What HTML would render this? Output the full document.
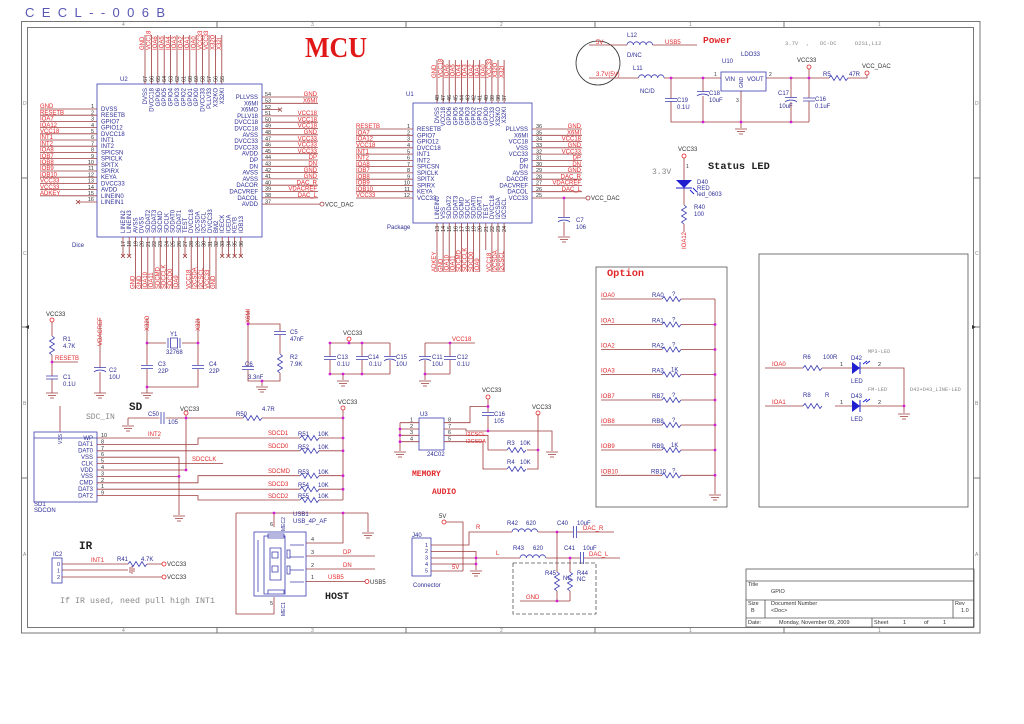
<!DOCTYPE html>
<html><head><meta charset="utf-8"><style>
html,body{margin:0;padding:0;background:#fff}
svg{display:block}
.w{stroke:#9e3b3b;stroke-width:.8;fill:none}
.b{stroke:#3c3cb0;stroke-width:.8;fill:none}
.r{fill:#e0282b}
.n{fill:#2e2e96}
.k{fill:#333}
.g{fill:#888}
.d{fill:#d020d0}
.m{font-family:"Liberation Mono",monospace}
.e{text-anchor:end}
</style></head><body>
<svg width="1024" height="724" viewBox="0 0 1024 724" xmlns="http://www.w3.org/2000/svg" font-family="Liberation Sans, sans-serif" font-size="6">
<defs>
<path id="rh" d="M0 0l2-2.5l3 5l3-5l3 5l3-5l3 5l2-2.5" fill="none"/>
<path id="rv" d="M0 0l2.5 2l-5 3l5 3l-5 3l5 3l-5 3l2.5 2" fill="none"/>
<path id="ind" d="M0 0a3.2 3.2 0 0 1 6.4 0a3.2 3.2 0 0 1 6.4 0a3.2 3.2 0 0 1 6.4 0a3.2 3.2 0 0 1 6.4 0" fill="none"/>
<path id="gnd" d="M-6 0h12M-4 2.5h8M-2 5h4" fill="none"/>
<path id="cap" d="M-6 -1.5h12M-6 1.5h12" fill="none"/>
<path id="capc" d="M-6 -1.5h12M-6 3a7 4 0 0 1 12 0" fill="none"/>
<path id="capx" d="M-1.5 -6v12M1.5 -6v12" fill="none"/>
<path id="xm" d="M-2 -2l4 4M-2 2l4-4" fill="none"/>
</defs>

<!-- frame -->
<g fill="none" stroke="#777" stroke-width="1">
<rect x="21.5" y="21.5" width="958.5" height="611.5"/>
<rect x="27.5" y="27.5" width="946" height="600"/>
<path d="M217 21.5v6M406 21.5v6M595 21.5v6M784 21.5v6M217 627.5v6M406 627.5v6M595 627.5v6M784 627.5v6M21.5 178h6M21.5 327h6M21.5 478h6M973.5 178h6M973.5 327h6M973.5 478h6"/>
</g>
<g class="g" font-size="5">
<text x="122" y="26">4</text><text x="311" y="26">3</text><text x="500" y="26">2</text><text x="689" y="26">1</text><text x="878" y="26">1</text>
<text x="122" y="632">4</text><text x="311" y="632">3</text><text x="500" y="632">2</text><text x="689" y="632">1</text><text x="878" y="632">1</text>
<text x="23" y="105">D</text><text x="23" y="255">C</text><text x="23" y="405">B</text><text x="23" y="556">A</text>
<text x="975" y="105">D</text><text x="975" y="255">C</text><text x="975" y="405">B</text><text x="975" y="556">A</text>
</g>

<text x="25" y="17" font-size="13" fill="#5858b4" textLength="140" lengthAdjust="spacing">CECL--006B</text>
<text x="305" y="57" font-size="28" font-weight="bold" font-family="Liberation Serif, serif" fill="#e01818" textLength="62" lengthAdjust="spacingAndGlyphs">MCU</text>

<!-- ================= U2 ================= -->
<rect x="97" y="84" width="165" height="153" class="b"/>
<text x="120" y="81" class="n">U2</text>
<text x="72" y="247" class="n">Dice</text>
<path class="w" d="M40 109H97M40 115.2H97M40 121.4H97M40 127.6H97M40 133.8H97M40 140H97M40 146.2H97M40 152.4H97M40 158.6H97M40 164.8H97M40 171H97M40 177.2H97M40 183.4H97M40 189.6H97M40 195.8H97M78 202H97
M262 97H318M262 103.3H318M262 109.6H280M262 115.9H318M262 122.2H318M262 128.5H318M262 134.8H318M262 141.1H318M262 147.4H318M262 153.7H318M262 160H318M262 166.3H318M262 172.6H318M262 178.9H318M262 185.2H318M262 191.5H318M262 197.8H318M262 204.1H320
M145 35V84M151.4 35V84M157.8 35V84M164.2 35V84M170.6 35V84M177 35V84M183.4 35V84M189.8 35V84M196.2 35V84M202.6 35V84M209 35V84M215.4 35V84M221.8 35V84
M123 237V256M129.2 237V256M135.4 237V289M141.6 237V289M147.8 237V289M154 237V289M160.2 237V289M166.4 237V289M172.6 237V289M178.8 237V289M185 237V256M191.2 237V289M197.4 237V289M203.6 237V289M209.8 237V289M216 237V289M222.2 237V256M228.4 237V256M234.6 237V256M240.8 237V256"/>
<g class="w"><use href="#xm" x="78" y="202"/><use href="#xm" x="280" y="109.6"/><use href="#xm" x="123" y="256"/><use href="#xm" x="129.2" y="256"/><use href="#xm" x="185" y="256"/><use href="#xm" x="222.2" y="256"/><use href="#xm" x="228.4" y="256"/><use href="#xm" x="234.6" y="256"/><use href="#xm" x="240.8" y="256"/></g>
<circle cx="322" cy="204.1" r="2" fill="none" stroke="#9e3b3b" stroke-width=".8"/>
<text x="325" y="206.5" class="k">VCC_DAC</text>
<g class="r">
<text x="40" y="108.2">GND</text><text x="40" y="114.4">RESETB</text><text x="40" y="120.6">IOA7</text><text x="40" y="126.8">IOA12</text><text x="40" y="133">VCC18</text><text x="40" y="139.2">INT1</text><text x="40" y="145.4">INT2</text><text x="40" y="151.6">IOA8</text><text x="40" y="157.8">IOB7</text><text x="40" y="164">IOB8</text><text x="40" y="170.2">IOB9</text><text x="40" y="176.4">IOB10</text><text x="40" y="182.6">VCC33</text><text x="40" y="188.8">VCC33</text><text x="40" y="195">ADKEY</text>
</g>
<g class="r e">
<text x="317" y="96.2">GND</text><text x="317" y="102.5">X6MI</text><text x="317" y="115.1">VCC18</text><text x="317" y="121.4">VCC18</text><text x="317" y="127.7">VCC18</text><text x="317" y="134">GND</text><text x="317" y="140.3">VCC33</text><text x="317" y="146.6">VCC33</text><text x="317" y="152.9">VCC33</text><text x="317" y="159.2">DP</text><text x="317" y="165.5">DN</text><text x="317" y="171.8">GND</text><text x="317" y="178.1">GND</text><text x="317" y="184.4">DAC_R</text><text x="317" y="190.7">VDACREF</text><text x="317" y="197">DAC_L</text>
</g>
<g class="n">
<text x="101" y="111">DVSS</text><text x="101" y="117.2">RESETB</text><text x="101" y="123.4">GPIO7</text><text x="101" y="129.6">GPIO12</text><text x="101" y="135.8">DVCC18</text><text x="101" y="142">INT1</text><text x="101" y="148.2">INT2</text><text x="101" y="154.4">SPICSN</text><text x="101" y="160.6">SPICLK</text><text x="101" y="166.8">SPITX</text><text x="101" y="173">SPIRX</text><text x="101" y="179.2">KEYA</text><text x="101" y="185.4">DVCC33</text><text x="101" y="191.6">AVDD</text><text x="101" y="197.8">LINEIN0</text><text x="101" y="204">LINEIN1</text>
</g>
<g class="n e">
<text x="258" y="99">PLLVSS</text><text x="258" y="105.3">X6MI</text><text x="258" y="111.6">X6MO</text><text x="258" y="117.9">PLLV18</text><text x="258" y="124.2">DVCC18</text><text x="258" y="130.5">DVCC18</text><text x="258" y="136.8">AVSS</text><text x="258" y="143.1">DVCC33</text><text x="258" y="149.4">DVCC33</text><text x="258" y="155.7">AVDD</text><text x="258" y="162">DP</text><text x="258" y="168.3">DN</text><text x="258" y="174.6">AVSS</text><text x="258" y="180.9">AVSS</text><text x="258" y="187.2">DACOR</text><text x="258" y="193.5">DACVREF</text><text x="258" y="199.8">DACOL</text><text x="258" y="206.1">AVDD</text>
</g>
<g class="k e" font-size="5.5">
<text x="94" y="108.2">1</text><text x="94" y="114.4">2</text><text x="94" y="120.6">3</text><text x="94" y="126.8">4</text><text x="94" y="133">5</text><text x="94" y="139.2">6</text><text x="94" y="145.4">7</text><text x="94" y="151.6">8</text><text x="94" y="157.8">9</text><text x="94" y="164">10</text><text x="94" y="170.2">11</text><text x="94" y="176.4">12</text><text x="94" y="182.6">13</text><text x="94" y="188.8">14</text><text x="94" y="195">15</text><text x="94" y="201.2">16</text>
</g>
<g class="k" font-size="5.5">
<text x="265" y="96.2">54</text><text x="265" y="102.5">53</text><text x="265" y="108.8">52</text><text x="265" y="115.1">51</text><text x="265" y="121.4">50</text><text x="265" y="127.7">49</text><text x="265" y="134">48</text><text x="265" y="140.3">47</text><text x="265" y="146.6">46</text><text x="265" y="152.9">45</text><text x="265" y="159.2">44</text><text x="265" y="165.5">43</text><text x="265" y="171.8">42</text><text x="265" y="178.1">41</text><text x="265" y="184.4">40</text><text x="265" y="190.7">39</text><text x="265" y="197">38</text><text x="265" y="203.3">37</text>
</g>
<g transform="rotate(-90)">
<g class="r">
<text x="-50" y="144.2">GND</text><text x="-50" y="150.6">VCC18</text><text x="-50" y="157">IOA6</text><text x="-50" y="163.4">IOA5</text><text x="-50" y="169.8">IOA4</text><text x="-50" y="176.2">IOA3</text><text x="-50" y="182.6">IOA2</text><text x="-50" y="189">IOA1</text><text x="-50" y="195.4">IOA0</text><text x="-50" y="201.8">VCC33</text><text x="-50" y="208.2">VCC33</text><text x="-50" y="214.6">X32O</text><text x="-50" y="221">X32I</text>
<text x="-289" y="134.6">GND</text><text x="-289" y="140.8">GND</text><text x="-289" y="147">IOA10</text><text x="-289" y="153.2">IOA11</text><text x="-289" y="159.4">SDCMD</text><text x="-289" y="165.6">SDCCLK</text><text x="-289" y="171.8">SDCD0</text><text x="-289" y="178">IOA9</text><text x="-289" y="190.4">VCC18</text><text x="-289" y="196.6">I2CSDA</text><text x="-289" y="202.8">I2CSCL</text><text x="-289" y="209">VCC33</text><text x="-289" y="215.2">GND</text>
</g>
<g class="n e">
<text x="-88" y="147">DVSS</text><text x="-88" y="153.4">DVCC18</text><text x="-88" y="159.8">GPIO6</text><text x="-88" y="166.2">GPIO5</text><text x="-88" y="172.6">GPIO4</text><text x="-88" y="179">GPIO3</text><text x="-88" y="185.4">GPIO2</text><text x="-88" y="191.8">GPIO1</text><text x="-88" y="198.2">GPIO0</text><text x="-88" y="204.6">DVCC33</text><text x="-88" y="211">PLLV33</text><text x="-88" y="217.4">X32KO</text><text x="-88" y="223.8">X32KI</text>
</g>
<g class="n">
<text x="-233" y="125">LINEIN2</text><text x="-233" y="131.2">LINEIN3</text><text x="-233" y="137.4">AVSS</text><text x="-233" y="143.6">DVSS</text><text x="-233" y="149.8">SDDAT2</text><text x="-233" y="156">SDDAT3</text><text x="-233" y="162.2">SDCMD</text><text x="-233" y="168.4">SDCLK</text><text x="-233" y="174.6">SDDAT0</text><text x="-233" y="180.8">SDDAT1</text><text x="-233" y="187">TEST</text><text x="-233" y="193.2">DVCC18</text><text x="-233" y="199.4">I2CSDA</text><text x="-233" y="205.6">I2CSCL</text><text x="-233" y="211.8">DVCC33</text><text x="-233" y="218">BM2</text><text x="-233" y="224.2">ICECK</text><text x="-233" y="230.4">ICEDA</text><text x="-233" y="236.6">KEYB</text><text x="-233" y="242.8">IOB13</text>
</g>
<g class="k" font-size="5.5">
<text x="-82" y="147">67</text><text x="-82" y="153.4">66</text><text x="-82" y="159.8">65</text><text x="-82" y="166.2">64</text><text x="-82" y="172.6">63</text><text x="-82" y="179">62</text><text x="-82" y="185.4">61</text><text x="-82" y="191.8">60</text><text x="-82" y="198.2">59</text><text x="-82" y="204.6">58</text><text x="-82" y="211">57</text><text x="-82" y="217.4">56</text><text x="-82" y="223.8">55</text>
<text x="-247" y="125">17</text><text x="-247" y="131.2">18</text><text x="-247" y="137.4">19</text><text x="-247" y="143.6">20</text><text x="-247" y="149.8">21</text><text x="-247" y="156">22</text><text x="-247" y="162.2">23</text><text x="-247" y="168.4">24</text><text x="-247" y="174.6">25</text><text x="-247" y="180.8">26</text><text x="-247" y="187">27</text><text x="-247" y="193.2">28</text><text x="-247" y="199.4">29</text><text x="-247" y="205.6">30</text><text x="-247" y="211.8">31</text><text x="-247" y="218">32</text><text x="-247" y="224.2">33</text><text x="-247" y="230.4">34</text><text x="-247" y="236.6">35</text><text x="-247" y="242.8">36</text>
</g>
</g>

<!-- ================= U1 ================= -->
<rect x="413" y="103" width="119" height="120" class="b"/>
<text x="406" y="96" class="n">U1</text>
<text x="387" y="229" class="n">Package</text>
<path class="w" d="M356 129H413M356 135.3H413M356 141.5H413M356 147.8H413M356 154.1H413M356 160.4H413M356 166.6H413M356 172.9H413M356 179.2H413M356 185.5H413M356 191.7H413M356 198H413
M532 129H582M532 135.3H582M532 141.5H582M532 147.8H582M532 154.1H582M532 160.4H582M532 166.6H582M532 172.9H582M532 179.2H582M532 185.5H582M532 191.7H582M532 198H586
M437 60V103M443.1 60V103M449.2 60V103M455.3 60V103M461.4 60V103M467.5 60V103M473.6 60V103M479.7 60V103M485.8 60V103M491.9 60V103M498 60V103M504.1 60V103
M437 223V272M443.1 223V272M449.2 223V272M455.3 223V272M461.4 223V272M467.5 223V272M473.6 223V272M479.7 223V272M485.8 223V250M491.9 223V272M498 223V272M504.1 223V272
M564 198V217M564 222V236"/>
<use href="#capc" x="564" y="219" class="b"/>
<use href="#gnd" x="564" y="237" class="w"/>
<circle cx="564" cy="198" r="1.4" class="d"/>
<circle cx="588" cy="198" r="2" fill="none" stroke="#9e3b3b" stroke-width=".8"/>
<text x="591" y="200" class="k">VCC_DAC</text>
<text x="576" y="222" class="n">C7</text><text x="576" y="229" class="n">106</text>
<g class="r">
<text x="356" y="128.2">RESETB</text><text x="356" y="134.5">IOA7</text><text x="356" y="140.7">IOA12</text><text x="356" y="147">VCC18</text><text x="356" y="153.3">INT1</text><text x="356" y="159.6">INT2</text><text x="356" y="165.8">IOA8</text><text x="356" y="172.1">IOB7</text><text x="356" y="178.4">IOB8</text><text x="356" y="184.7">IOB9</text><text x="356" y="190.9">IOB10</text><text x="356" y="197.2">VCC33</text>
</g>
<g class="r e">
<text x="581" y="128.2">GND</text><text x="581" y="134.5">X6MI</text><text x="581" y="140.7">VCC18</text><text x="581" y="147">GND</text><text x="581" y="153.3">VCC33</text><text x="581" y="159.6">DP</text><text x="581" y="165.8">DN</text><text x="581" y="172.1">GND</text><text x="581" y="178.4">DAC_R</text><text x="581" y="184.7">VDACREF</text><text x="581" y="190.9">DAC_L</text>
</g>
<g class="n">
<text x="417" y="131">RESETB</text><text x="417" y="137.3">GPIO7</text><text x="417" y="143.5">GPIO12</text><text x="417" y="149.8">DVCC18</text><text x="417" y="156.1">INT1</text><text x="417" y="162.4">INT2</text><text x="417" y="168.6">SPICSN</text><text x="417" y="174.9">SPICLK</text><text x="417" y="181.2">SPITX</text><text x="417" y="187.5">SPIRX</text><text x="417" y="193.7">KEYA</text><text x="417" y="200">VCC33</text>
</g>
<g class="n e">
<text x="528" y="131">PLLVSS</text><text x="528" y="137.3">X6MI</text><text x="528" y="143.5">VCC18</text><text x="528" y="149.8">VSS</text><text x="528" y="156.1">VCC33</text><text x="528" y="162.4">DP</text><text x="528" y="168.6">DN</text><text x="528" y="174.9">AVSS</text><text x="528" y="181.2">DACOR</text><text x="528" y="187.5">DACVREF</text><text x="528" y="193.7">DACOL</text><text x="528" y="200">VCC33</text>
</g>
<g class="k e" font-size="5.5">
<text x="410" y="128.2">1</text><text x="410" y="134.5">2</text><text x="410" y="140.7">3</text><text x="410" y="147">4</text><text x="410" y="153.3">5</text><text x="410" y="159.6">6</text><text x="410" y="165.8">7</text><text x="410" y="172.1">8</text><text x="410" y="178.4">9</text><text x="410" y="184.7">10</text><text x="410" y="190.9">11</text><text x="410" y="197.2">12</text>
</g>
<g class="k" font-size="5.5">
<text x="536" y="128.2">36</text><text x="536" y="134.5">35</text><text x="536" y="140.7">34</text><text x="536" y="147">33</text><text x="536" y="153.3">32</text><text x="536" y="159.6">31</text><text x="536" y="165.8">30</text><text x="536" y="172.1">29</text><text x="536" y="178.4">28</text><text x="536" y="184.7">27</text><text x="536" y="190.9">26</text><text x="536" y="197.2">25</text>
</g>
<g transform="rotate(-90)">
<g class="r">
<text x="-78" y="436.2">GND</text><text x="-78" y="442.3">VCC18</text><text x="-78" y="448.4">IOA6</text><text x="-78" y="454.5">IOA5</text><text x="-78" y="460.6">IOA4</text><text x="-78" y="466.7">IOA3</text><text x="-78" y="472.8">IOA2</text><text x="-78" y="478.9">IOA1</text><text x="-78" y="485">IOA0</text><text x="-78" y="491.1">VCC33</text><text x="-78" y="497.2">X32O</text><text x="-78" y="503.3">X32I</text>
<text x="-272" y="436.2">ADKEY</text><text x="-272" y="442.3">GND</text><text x="-272" y="448.4">IOA10</text><text x="-272" y="454.5">IOA11</text><text x="-272" y="460.6">SDCMD</text><text x="-272" y="466.7">SDCCLK</text><text x="-272" y="472.8">SDCD0</text><text x="-272" y="478.9">IOA9</text><text x="-272" y="491.1">VCC18</text><text x="-272" y="497.2">I2CSDA</text><text x="-272" y="503.3">I2CSCL</text>
</g>
<g class="n e">
<text x="-107" y="439">DVSS</text><text x="-107" y="445.1">VCC18</text><text x="-107" y="451.2">GPIO6</text><text x="-107" y="457.3">GPIO5</text><text x="-107" y="463.4">GPIO4</text><text x="-107" y="469.5">GPIO3</text><text x="-107" y="475.6">GPIO2</text><text x="-107" y="481.7">GPIO1</text><text x="-107" y="487.8">GPIO0</text><text x="-107" y="493.9">VCC33</text><text x="-107" y="500">X32KO</text><text x="-107" y="506.1">X32KI</text>
</g>
<g class="n">
<text x="-219" y="439">LINEIN0</text><text x="-219" y="445.1">VSS</text><text x="-219" y="451.2">SDDAT2</text><text x="-219" y="457.3">SDDAT3</text><text x="-219" y="463.4">SDCMD</text><text x="-219" y="469.5">SDCLK</text><text x="-219" y="475.6">SDDAT0</text><text x="-219" y="481.7">SDDAT1</text><text x="-219" y="487.8">TEST</text><text x="-219" y="493.9">DVCC18</text><text x="-219" y="500">I2CSDA</text><text x="-219" y="506.1">I2CSCL</text>
</g>
<g class="k" font-size="5.5">
<text x="-101" y="439">48</text><text x="-101" y="445.1">47</text><text x="-101" y="451.2">46</text><text x="-101" y="457.3">45</text><text x="-101" y="463.4">44</text><text x="-101" y="469.5">43</text><text x="-101" y="475.6">42</text><text x="-101" y="481.7">41</text><text x="-101" y="487.8">40</text><text x="-101" y="493.9">39</text><text x="-101" y="500">38</text><text x="-101" y="506.1">37</text>
<text x="-232" y="439">13</text><text x="-232" y="445.1">14</text><text x="-232" y="451.2">15</text><text x="-232" y="457.3">16</text><text x="-232" y="463.4">17</text><text x="-232" y="469.5">18</text><text x="-232" y="475.6">19</text><text x="-232" y="481.7">20</text><text x="-232" y="487.8">21</text><text x="-232" y="493.9">22</text><text x="-232" y="500">23</text><text x="-232" y="506.1">24</text>
</g>
</g>

<!-- ================= POWER ================= -->
<circle cx="598" cy="63" r="22" fill="none" stroke="#333" stroke-width=".8"/>
<path class="w" d="M589 45H627M652.6 45H697M589 78H638.5M664 78H721M766 78H829M848 78H867V75M671 78V98.5M671 101.5V122H809M703 78V91.5M703 96V122M741 91V128M791 78V97.5M791 102V122M809 78V97.5M809 101.5V122M809 78V69"/>
<use href="#ind" x="627" y="45" class="b"/>
<use href="#ind" x="638.5" y="78" class="b"/>
<use href="#cap" x="671" y="100" class="b"/>
<use href="#capc" x="703" y="93" class="b"/>
<use href="#capc" x="791" y="99" class="b"/>
<use href="#cap" x="809" y="99.5" class="b"/>
<use href="#rh" x="829" y="78" class="b"/>
<use href="#gnd" x="741" y="129" class="w"/>
<rect x="721" y="72" width="45" height="19" class="b"/>
<g class="d"><circle cx="671" cy="78" r="1.4"/><circle cx="703" cy="78" r="1.4"/><circle cx="791" cy="78" r="1.4"/><circle cx="809" cy="78" r="1.4"/><circle cx="703" cy="122" r="1.4"/><circle cx="741" cy="122" r="1.4"/><circle cx="791" cy="122" r="1.4"/></g>
<circle cx="809" cy="67" r="2" fill="none" stroke="#e0282b" stroke-width=".8"/>
<circle cx="867" cy="73" r="2" fill="none" stroke="#e0282b" stroke-width=".8"/>
<text x="596" y="44" class="r">5V</text>
<text x="596" y="76" class="r">3.7V(5V)</text>
<text x="665" y="44" class="r">USB5</text>
<text x="703" y="43" class="r m" font-size="9.5" font-weight="bold">Power</text>
<g class="g m" font-size="5.5"><text x="785" y="45">3.7V</text><text x="806" y="45">,</text><text x="820" y="45">DC-DC</text><text x="855" y="45">D2S1,L12</text></g>
<g class="n">
<text x="627" y="37">L12</text><text x="627" y="57">D/NC</text><text x="633" y="70">L11</text><text x="640" y="93">NC/D</text>
<text x="677" y="102">C19</text><text x="677" y="109">0.1U</text><text x="709" y="95">C18</text><text x="709" y="102">10uF</text>
<text x="722" y="63">U10</text><text x="741" y="56">LDO33</text><text x="725" y="81">VIN</text><text x="747" y="81">VOUT</text>
<text x="778" y="95">C17</text><text x="779" y="108">10uF</text><text x="815" y="101">C16</text><text x="815" y="108">0.1uF</text>
<text x="823" y="76">R5</text><text x="849" y="76">47R</text>
</g>
<text transform="translate(743,88) rotate(-90)" class="n" font-size="5">GND</text>
<g class="k" font-size="5"><text x="714" y="76">1</text><text x="769" y="76">2</text><text x="736" y="102">3</text></g>
<text x="797" y="62" class="k">VCC33</text>
<text x="862" y="68" class="k">VCC_DAC</text>

<!-- Status LED -->
<text x="678" y="151" class="k">VCC33</text>
<circle cx="684" cy="156" r="2" fill="none" stroke="#e0282b" stroke-width=".8"/>
<path class="w" d="M684 158V180M684 188V205M684 224V232"/>
<path d="M676 180h16l-8 8z" fill="#1f1fd0"/>
<path d="M676 188h16M690 190l4 4M693 188l4 4" stroke="#1f1fd0" stroke-width="1" fill="none"/>
<use href="#rv" x="684" y="205" class="b"/>
<text x="686" y="168" class="k" font-size="5">1</text>
<text x="652" y="174" class="g m" font-size="8">3.3V</text>
<text x="708" y="169" class="m" font-size="10.3" font-weight="bold" fill="#222">Status LED</text>
<g class="n"><text x="697" y="184">D40</text><text x="697" y="190">RED</text><text x="697" y="196">led_0603</text><text x="694" y="209">R40</text><text x="694" y="216">100</text></g>
<text transform="translate(686,249) rotate(-90)" class="r">IOA12</text>

<!-- ================= small components row ================= -->
<text x="46" y="316" class="k">VCC33</text>
<circle cx="52" cy="320" r="2" fill="none" stroke="#e0282b" stroke-width=".8"/>
<path class="w" d="M52 322V336M52 355V376M52 379V393M52 362H78"/>
<use href="#rv" x="52" y="336" class="b"/>
<use href="#cap" x="52" y="377.5" class="b"/>
<use href="#gnd" x="52" y="393" class="w"/>
<circle cx="52" cy="362" r="1.4" class="d"/>
<text x="55" y="360" class="r">RESETB</text>
<g class="n"><text x="63" y="341">R1</text><text x="63" y="348">4.7K</text><text x="63" y="379">C1</text><text x="63" y="386">0.1U</text></g>

<text transform="translate(102,346) rotate(-90)" class="r">VDACREF</text>
<path class="w" d="M100 318V368M100 372V393"/>
<use href="#capc" x="100" y="369" class="b"/>
<use href="#gnd" x="100" y="393" class="w"/>
<g class="n"><text x="109" y="372">C2</text><text x="109" y="379">10U</text></g>

<text transform="translate(149,331) rotate(-90)" class="r">X32O</text>
<text transform="translate(200,331) rotate(-90)" class="r">X32I</text>
<path class="w" d="M147 318V365M147 369V393M198 318V365M198 369V387H147M147 343H166M182 343H198"/>
<path class="b" d="M168 338v10M180 338v10M170.5 338h7v10h-7z"/>
<use href="#cap" x="147" y="367" class="b"/>
<use href="#cap" x="198" y="367" class="b"/>
<use href="#gnd" x="147" y="393" class="w"/>
<g class="d"><circle cx="147" cy="343" r="1.4"/><circle cx="198" cy="343" r="1.4"/><circle cx="147" cy="387" r="1.4"/></g>
<g class="n"><text x="170" y="336">Y1</text><text x="166" y="354">32768</text><text x="158" y="366">C3</text><text x="158" y="373">22P</text><text x="209" y="366">C4</text><text x="209" y="373">22P</text></g>

<text transform="translate(250,323) rotate(-90)" class="r">X6MI</text>
<path class="w" d="M248 310V366M248 370V381H280V373M248 324H280V331M280 335V354M262 381V386"/>
<use href="#cap" x="280" y="333" class="b"/>
<use href="#cap" x="248" y="368" class="b"/>
<use href="#rv" x="280" y="354" class="b"/>
<use href="#gnd" x="262" y="387" class="w"/>
<g class="d"><circle cx="248" cy="324" r="1.4"/><circle cx="262" cy="381" r="1.4"/></g>
<g class="n"><text x="290" y="334">C5</text><text x="290" y="341">47nF</text><text x="290" y="359">R2</text><text x="290" y="366">7.9K</text><text x="245" y="366">C6</text><text x="248" y="379">3.3nF</text></g>

<text x="343" y="335" class="k">VCC33</text>
<circle cx="349" cy="339" r="2" fill="none" stroke="#e0282b" stroke-width=".8"/>
<path class="w" d="M330 343H390M330 374H390M330 343V356.5M330 360V374M362 343V356.5M362 360V374M390 343V356.5M390 360V374M343 374V380M349 341V343"/>
<use href="#cap" x="330" y="358" class="b"/>
<use href="#cap" x="362" y="358" class="b"/>
<use href="#capc" x="390" y="358" class="b"/>
<use href="#gnd" x="343" y="381" class="w"/>
<g class="d"><circle cx="349" cy="343" r="1.4"/><circle cx="362" cy="343" r="1.4"/><circle cx="343" cy="374" r="1.4"/><circle cx="362" cy="374" r="1.4"/><circle cx="330" cy="343" r="1.4"/><circle cx="330" cy="374" r="1.4"/></g>
<g class="n"><text x="337" y="359">C13</text><text x="337" y="366">0.1U</text><text x="368" y="359">C14</text><text x="369" y="366">0.1U</text><text x="396" y="359">C15</text><text x="396" y="366">10U</text></g>

<text x="452" y="341" class="r">VCC18</text>
<path class="w" d="M425 343H475M425 374H450M425 343V356.5M425 360V374M450 343V356.5M450 360V374M425 374V380"/>
<use href="#capc" x="425" y="358" class="b"/>
<use href="#cap" x="450" y="358" class="b"/>
<use href="#gnd" x="425" y="381" class="w"/>
<g class="d"><circle cx="450" cy="343" r="1.4"/><circle cx="425" cy="374" r="1.4"/></g>
<g class="n"><text x="432" y="359">C11</text><text x="432" y="366">10U</text><text x="457" y="359">C12</text><text x="457" y="366">0.1U</text></g>

<!-- ================= SD ================= -->
<text x="129" y="410" class="m" font-size="11" font-weight="bold" fill="#222">SD</text>
<text x="86" y="419" class="g m" font-size="8">SDC_IN</text>
<path class="w" d="M128 418H159.5M165.5 418H243M262 418H343M128 418V425M186 415V469.5M343 410V500M60 406V432"/>
<use href="#capx" x="162.5" y="418" class="b"/>
<use href="#gnd" x="128" y="426" class="w"/>
<use href="#rh" x="243" y="418" class="b"/>
<text x="148" y="416" class="n">C50</text><text x="168" y="424" class="n">105</text>
<text x="180" y="411" class="k">VCC33</text>
<circle cx="186" cy="413" r="2" fill="none" stroke="#e0282b" stroke-width=".8"/>
<text x="236" y="416" class="n">R50</text><text x="262" y="411" class="n">4.7R</text>
<text x="338" y="404" class="k">VCC33</text>
<circle cx="343" cy="408" r="2" fill="none" stroke="#e0282b" stroke-width=".8"/>
<rect x="34" y="432" width="63" height="70" class="b"/>
<path class="b" d="M34 438H97"/>
<text transform="translate(62,444) rotate(-90)" class="n" font-size="5">VSS</text>
<g class="n e">
<text x="93" y="440">WP</text><text x="93" y="446.2">DAT1</text><text x="93" y="452.6">DAT0</text><text x="93" y="459">VSS</text><text x="93" y="465.4">CLK</text><text x="93" y="471.8">VDD</text><text x="93" y="478.2">VSS</text><text x="93" y="484.6">CMD</text><text x="93" y="491">DAT3</text><text x="93" y="497.4">DAT2</text>
</g>
<g class="k" font-size="5.5">
<text x="101" y="437">10</text><text x="101" y="443.4">8</text><text x="101" y="449.8">7</text><text x="101" y="456.2">6</text><text x="101" y="462.6">5</text><text x="101" y="469">4</text><text x="101" y="475.4">3</text><text x="101" y="481.8">2</text><text x="101" y="488.2">1</text><text x="101" y="494.6">9</text>
</g>
<path class="w" d="M97 438H160M97 444.4H198V438H300M319 438H343M97 450.8H300M319 450.8H343M97 457.2H179M97 463.6H223M97 470H186M97 476.4H179M97 482.8H198V475.7H300M319 475.7H343M97 489.2H300M319 489.2H343M97 495.6H198V500H300M319 500H343M179 457.2V515"/>
<g class="b"><use href="#rh" x="300" y="438"/><use href="#rh" x="300" y="450.8"/><use href="#rh" x="300" y="475.7"/><use href="#rh" x="300" y="489.2"/><use href="#rh" x="300" y="500"/></g>
<use href="#gnd" x="179" y="516" class="w"/>
<g class="d"><circle cx="343" cy="418" r="1.4"/><circle cx="343" cy="438" r="1.4"/><circle cx="343" cy="450.8" r="1.4"/><circle cx="343" cy="475.7" r="1.4"/><circle cx="343" cy="489.2" r="1.4"/><circle cx="186" cy="418" r="1.4"/><circle cx="186" cy="470" r="1.4"/><circle cx="179" cy="476.4" r="1.4"/></g>
<g class="r"><text x="148" y="436">INT2</text><text x="268" y="435">SDCD1</text><text x="268" y="448">SDCD0</text><text x="192" y="461">SDCCLK</text><text x="268" y="473">SDCMD</text><text x="268" y="486">SDCD3</text><text x="268" y="498">SDCD2</text></g>
<g class="n"><text x="298" y="436">R51</text><text x="318" y="436">10K</text><text x="298" y="449">R52</text><text x="318" y="449">10K</text><text x="298" y="474">R53</text><text x="318" y="474">10K</text><text x="298" y="487">R54</text><text x="318" y="487">10K</text><text x="298" y="498">R55</text><text x="318" y="498">10K</text><text x="34" y="506">SD1</text><text x="34" y="512">SDCON</text></g>

<!-- ================= USB HOST ================= -->
<path class="w" d="M236 513H368M236 513V614H274V597M274 513V527M343 513V543H306M368 513V532M306 556H375M306 569H375M306 581.5H365"/>
<use href="#gnd" x="368" y="533" class="w"/>
<g class="d"><circle cx="274" cy="513" r="1.4"/><circle cx="343" cy="513" r="1.4"/></g>
<rect x="254" y="532" width="52" height="64" class="b"/>
<path class="b" d="M264 536h21v58h-21zM270 548h11v32h-11zM272 552h6v6h-6zM272 566h6v6h-6zM258 540v52M287 550h3v8h-3zM287 566h3v8h-3zM290 545h14M290 557h14M290 570h14M290 582h14M268 534h16v4h-16zM268 590h16v4h-16z"/>
<g class="k" font-size="5.5"><text x="311" y="541">4</text><text x="311" y="554">3</text><text x="311" y="567">2</text><text x="311" y="579">1</text><text x="270" y="526">6</text><text x="270" y="605">5</text></g>
<g class="r"><text x="343" y="554">DP</text><text x="343" y="567">DN</text><text x="328" y="579">USB5</text></g>
<circle cx="367" cy="581.5" r="2" fill="none" stroke="#e0282b" stroke-width=".8"/>
<text x="370" y="584" class="k">USB5</text>
<text transform="translate(285,531) rotate(-90)" class="n" font-size="5">MEC2</text>
<text transform="translate(285,616) rotate(-90)" class="n" font-size="5">MEC1</text>
<text x="293" y="516" class="n">USB1</text><text x="293" y="523" class="n">USB_4P_AF</text>
<text x="325" y="599" class="m" font-size="10" font-weight="bold" fill="#222">HOST</text>

<!-- ================= IR ================= -->
<text x="79" y="549" class="m" font-size="11" font-weight="bold" fill="#222">IR</text>
<text x="53" y="556" class="n">IC2</text>
<rect x="52" y="558" width="10" height="25" class="b"/>
<g class="n" font-size="5.5"><text x="57" y="566">0</text><text x="57" y="572.5">1</text><text x="57" y="579">2</text></g>
<path class="w" d="M62 564H128M147 564H162M62 570H128M62 577H162M130 567v6M132 566v8M134 568v4"/>
<use href="#rh" x="128" y="564" class="b"/>
<circle cx="164" cy="564" r="2" fill="none" stroke="#e0282b" stroke-width=".8"/>
<circle cx="164" cy="577" r="2" fill="none" stroke="#e0282b" stroke-width=".8"/>
<text x="167" y="566" class="k">VCC33</text><text x="167" y="579" class="k">VCC33</text>
<text x="91" y="562" class="r">INT1</text>
<text x="117" y="561" class="n">R41</text><text x="141" y="561" class="n">4.7K</text>
<text x="60" y="603" class="g m" font-size="8.3" textLength="155" lengthAdjust="spacing">If IR used, need pull high INT1</text>

<!-- ================= MEMORY ================= -->
<rect x="419" y="418" width="25" height="32" class="b"/>
<text x="420" y="416" class="n">U3</text><text x="427" y="456" class="n">24C02</text>
<g class="k" font-size="5.5"><text x="410" y="421.5">1</text><text x="410" y="428">2</text><text x="410" y="434">3</text><text x="410" y="440.5">4</text><text x="448" y="421.5">8</text><text x="448" y="428">7</text><text x="448" y="434">6</text><text x="448" y="440.5">5</text></g>
<path class="w" d="M400 422.7H419M400 429H419M400 435.3H419M400 441.7H419M400 422.7V451M444 422.7H470V406.5H488M444 429H466V431H552V451M444 435.3H488V450H507M527 450H538M444 441.7H483V469H507M527 469H538V414M488 399V412M488 416V431"/>
<use href="#cap" x="488" y="414" class="b"/>
<use href="#rh" x="507" y="450" class="b"/>
<use href="#rh" x="507" y="469" class="b"/>
<use href="#gnd" x="400" y="452" class="w"/>
<use href="#gnd" x="552" y="452" class="w"/>
<g class="d"><circle cx="400" cy="429" r="1.4"/><circle cx="400" cy="435.3" r="1.4"/><circle cx="400" cy="441.7" r="1.4"/><circle cx="488" cy="406.5" r="1.4"/><circle cx="488" cy="431" r="1.4"/><circle cx="538" cy="450" r="1.4"/></g>
<text x="482" y="392" class="k">VCC33</text>
<circle cx="488" cy="397" r="2" fill="none" stroke="#e0282b" stroke-width=".8"/>
<text x="532" y="409" class="k">VCC33</text>
<circle cx="538" cy="413" r="2" fill="none" stroke="#e0282b" stroke-width=".8"/>
<g class="r" font-size="5.5"><text x="466" y="436">I2CSCL</text><text x="466" y="443">I2CSDA</text></g>
<g class="n"><text x="494" y="416">C16</text><text x="494" y="423">105</text><text x="507" y="445">R3</text><text x="520" y="445">10K</text><text x="507" y="464">R4</text><text x="520" y="464">10K</text></g>
<text x="412" y="476" class="r m" font-size="8" font-weight="bold">MEMORY</text>
<text x="432" y="494" class="r m" font-size="8" font-weight="bold">AUDIO</text>

<!-- ================= AUDIO ================= -->
<text x="439" y="518" class="k">5V</text>
<circle cx="444" cy="522" r="2" fill="none" stroke="#e0282b" stroke-width=".8"/>
<text x="412" y="537" class="n">J40</text>
<rect x="412" y="538" width="19" height="38" class="b"/>
<g class="n" font-size="5.5"><text x="425" y="547">1</text><text x="425" y="553">2</text><text x="425" y="559.5">3</text><text x="425" y="566">4</text><text x="425" y="572.5">5</text></g>
<text x="413" y="587" class="n">Connector</text>
<path class="w" d="M446 522H463V571M431 545H469V532H512M538 532H573M577 532H614M431 551.5H476V570M431 558H520M546 558H580M584 558H620M431 564H476M431 571H463M557 532V572M557 591V601M570 558V572M570 591V601M520 601H570"/>
<use href="#ind" x="512" y="532" class="b"/>
<use href="#ind" x="520" y="558" class="b"/>
<use href="#capx" x="575" y="532" class="b"/>
<use href="#capx" x="582" y="558" class="b"/>
<use href="#rv" x="557" y="572" class="b"/>
<use href="#rv" x="570" y="572" class="b"/>
<use href="#gnd" x="476" y="571" class="w"/>
<g class="d"><circle cx="476" cy="558" r="1.4"/><circle cx="476" cy="564" r="1.4"/><circle cx="557" cy="532" r="1.4"/><circle cx="570" cy="558" r="1.4"/><circle cx="557" cy="601" r="1.4"/></g>
<rect x="513" y="563" width="83" height="51" fill="none" stroke="#555" stroke-width=".8" stroke-dasharray="4,2"/>
<g class="r"><text x="476" y="529">R</text><text x="496" y="555">L</text><text x="452" y="569">5V</text><text x="583" y="530">DAC_R</text><text x="589" y="556">DAC_L</text><text x="526" y="599">GND</text></g>
<g class="n"><text x="507" y="525">R42</text><text x="526" y="525">620</text><text x="513" y="550">R43</text><text x="533" y="550">620</text><text x="557" y="525">C40</text><text x="577" y="525">10uF</text><text x="564" y="550">C41</text><text x="583" y="550">10uF</text><text x="545" y="575">R45</text><text x="563" y="580">NC</text><text x="577" y="575">R44</text><text x="577" y="581">NC</text></g>

<!-- ================= OPTION ================= -->
<rect x="596" y="267" width="131" height="240" fill="none" stroke="#555" stroke-width=".8"/>
<text x="607" y="276" class="r m" font-size="10.3" font-weight="bold">Option</text>
<path class="w" d="M601 299H662M681 299H715M601 324.5H662M681 324.5H715M601 349.5H662M681 349.5H715M601 374.5H662M681 374.5H715M601 400H662M681 400H715M601 425H662M681 425H715M601 450H662M681 450H715M601 475.3H662M681 475.3H715M715 299V494"/>
<g class="b"><use href="#rh" x="662" y="299"/><use href="#rh" x="662" y="324.5"/><use href="#rh" x="662" y="349.5"/><use href="#rh" x="662" y="374.5"/><use href="#rh" x="662" y="400"/><use href="#rh" x="662" y="425"/><use href="#rh" x="662" y="450"/><use href="#rh" x="662" y="475.3"/></g>
<use href="#gnd" x="715" y="495" class="w"/>
<g class="d"><circle cx="715" cy="324.5" r="1.4"/><circle cx="715" cy="349.5" r="1.4"/><circle cx="715" cy="374.5" r="1.4"/><circle cx="715" cy="400" r="1.4"/><circle cx="715" cy="425" r="1.4"/><circle cx="715" cy="450" r="1.4"/><circle cx="715" cy="475.3" r="1.4"/></g>
<g class="r"><text x="601" y="297">IOA0</text><text x="601" y="322.5">IOA1</text><text x="601" y="347.5">IOA2</text><text x="601" y="372.5">IOA3</text><text x="601" y="398">IOB7</text><text x="601" y="423">IOB8</text><text x="601" y="448">IOB9</text><text x="601" y="473.3">IOB10</text></g>
<g class="n"><text x="652" y="297">RA0</text><text x="672" y="296">?</text><text x="652" y="322.5">RA1</text><text x="672" y="321.5">?</text><text x="652" y="347.5">RA2</text><text x="672" y="346.5">?</text><text x="652" y="372.5">RA3</text><text x="671" y="371.5">1K</text><text x="652" y="398">RB7</text><text x="672" y="397">?</text><text x="652" y="423">RB8</text><text x="672" y="422">?</text><text x="652" y="448">RB9</text><text x="671" y="447">1K</text><text x="651" y="473.3">RB10</text><text x="672" y="472.3">?</text></g>

<!-- ================= LED box ================= -->
<rect x="759" y="254" width="209" height="253" fill="none" stroke="#555" stroke-width=".8"/>
<path class="w" d="M765 368H803M822 368H852M860 368H904V406M765 406H803M835 406H852M860 406H904V413"/>
<g class="b"><use href="#rh" x="803" y="368"/><use href="#rh" x="803" y="406"/></g>
<path d="M852 362v12l8-6zM852 400v12l8-6z" fill="#1f1fd0"/>
<path d="M860 362v12M860 400v12M863 364l4-3M866 364l4-3M863 402l4-3M866 402l4-3" stroke="#1f1fd0" stroke-width="1" fill="none"/>
<use href="#gnd" x="904" y="414" class="w"/>
<circle cx="904" cy="406" r="1.4" class="d"/>
<g class="r"><text x="772" y="366">IOA0</text><text x="772" y="404">IOA1</text></g>
<g class="n"><text x="803" y="359">R6</text><text x="823" y="359">100R</text><text x="851" y="360">D42</text><text x="851" y="383">LED</text><text x="803" y="397">R8</text><text x="825" y="397">R</text><text x="851" y="398">D43</text><text x="851" y="421">LED</text></g>
<g class="k" font-size="5.5"><text x="840" y="366">1</text><text x="878" y="366">2</text><text x="840" y="404">1</text><text x="878" y="404">2</text></g>
<g class="g m" font-size="5.3"><text x="868" y="353">MP3-LED</text><text x="868" y="391">FM-LED</text><text x="910" y="391">D42+D43_LINE-LED</text></g>
<path d="M976 327l-4-2v4z" fill="#333"/>
<path d="M25 327l4-2v4z" fill="#333"/>

<!-- ================= Title block ================= -->
<g fill="none" stroke="#555" stroke-width=".8">
<rect x="746" y="569" width="228" height="58"/>
<path d="M746 581H974M746 600H974M746 618H974M765 600V618M953 600V618M872 618V627"/>
</g>
<g class="k" font-size="5.5">
<text x="748" y="586">Title</text><text x="771" y="593">GPIO</text>
<text x="748" y="605">Size</text><text x="751" y="612">B</text>
<text x="771" y="605">Document Number</text><text x="771" y="612">&lt;Doc&gt;</text>
<text x="955" y="605">Rev</text><text x="961" y="612">1.0</text>
<text x="748" y="624">Date:</text><text x="779" y="624">Monday, November 09, 2009</text>
<text x="874" y="624">Sheet</text><text x="903" y="624">1</text><text x="924" y="624">of</text><text x="943" y="624">1</text>
</g>
</svg>
</body></html>
